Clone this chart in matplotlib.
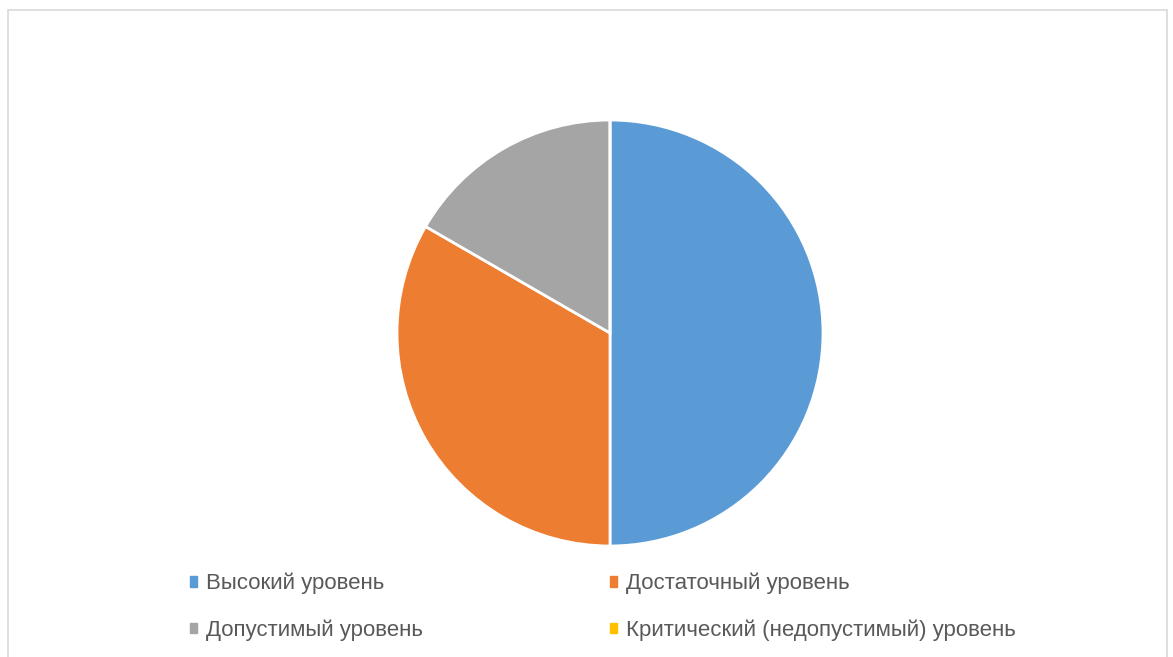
import matplotlib.pyplot as plt
from matplotlib.patches import Rectangle, Patch

labels = ["Высокий уровень", "Достаточный уровень",
          "Допустимый уровень", "Критический (недопустимый) уровень"]
values = [3, 2, 1, 0]
colors = ["#5b9bd5", "#ed7d31", "#a5a5a5", "#ffc000"]

plt.rcParams['font.family'] = ['Liberation Sans', 'DejaVu Sans']

fig = plt.figure(figsize=(11.73, 6.57), dpi=100)

# chart area border
fig.patches.append(Rectangle((8 / 1173, -0.05), (1167 - 8) / 1173, 1 - 10 / 657 + 0.05,
                             transform=fig.transFigure, fill=False,
                             edgecolor="#d9d9d9", linewidth=1.2))

cx, cy, r = 610, 333, 213
ax = fig.add_axes([(cx - r) / 1173, (657 - cy - r) / 657, 2 * r / 1173, 2 * r / 657])
ax.pie(values, colors=colors, startangle=90, counterclock=False,
       wedgeprops=dict(edgecolor="white", linewidth=2))
ax.set_xlim(-1, 1)
ax.set_ylim(-1, 1)
ax.set_aspect('equal')
ax.axis('off')

# legend fills column-first, so reorder to read row by row
order = [0, 2, 1, 3]
handles = [Patch(facecolor=colors[i], edgecolor=colors[i]) for i in order]
leg = fig.legend(handles, [labels[i] for i in order], ncol=2, loc='upper left',
                 bbox_to_anchor=(170 / 1173, 1 - 553 / 657), frameon=False,
                 fontsize=16, labelcolor="#595959", handlelength=0.33,
                 handleheight=0.33, handletextpad=0.38, columnspacing=8.42,
                 labelspacing=1.12)

fig.savefig("out.png", dpi=100)
